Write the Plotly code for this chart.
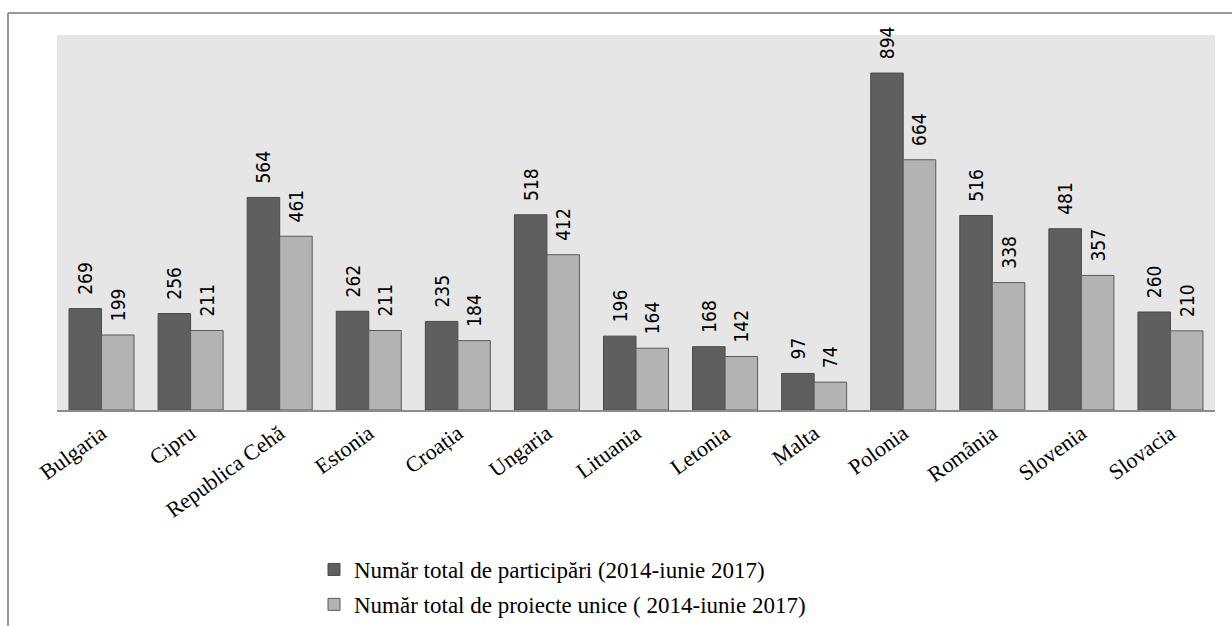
import plotly.graph_objects as go

categories = ["Bulgaria", "Cipru", "Republica Cehă", "Estonia", "Croația", "Ungaria",
              "Lituania", "Letonia", "Malta", "Polonia", "România", "Slovenia", "Slovacia"]
participari = [269, 256, 564, 262, 235, 518, 196, 168, 97, 894, 516, 481, 260]
proiecte = [199, 211, 461, 211, 184, 412, 164, 142, 74, 664, 338, 357, 210]
series_names = ["Număr total de participări (2014-iunie 2017)",
                "Număr total de proiecte unice ( 2014-iunie 2017)"]

W, H = 1232, 626
L, R, T, B = 57, 17, 35, 216
PW, PH = W - L - R, H - T - B

label_font = dict(family="Liberation Sans Narrow, Arial Narrow, DejaVu Sans Condensed, Liberation Sans, sans-serif",
                  size=19, color="#000000")

fig = go.Figure()
fig.add_trace(go.Bar(
    x=categories, y=participari, name=series_names[0], legendgroup="a",
    marker=dict(color="#5f5f5f", line=dict(color="#4a4a4a", width=1)),
    text=participari, texttemplate="\u00a0\u00a0%{y}", textposition="outside", textangle=-90,
    textfont=label_font, cliponaxis=False, constraintext="none",
))
fig.add_trace(go.Bar(
    x=categories, y=proiecte, name=series_names[1], legendgroup="b",
    marker=dict(color="#b3b3b3", line=dict(color="#5a5a5a", width=1)),
    text=proiecte, texttemplate="\u00a0\u00a0%{y}", textposition="outside", textangle=-90,
    textfont=label_font, cliponaxis=False, constraintext="none",
))

fig.update_layout(
    width=W, height=H,
    margin=dict(l=L, r=R, t=T, b=B, autoexpand=False),
    paper_bgcolor="#ffffff",
    plot_bgcolor="#e6e6e6",
    barmode="group",
    bargap=0.27,
    bargroupgap=0,
    showlegend=True,
    legend=dict(
        x=(314 - L) / PW, y=-(548 - (H - B)) / PH, xanchor="left", yanchor="top",
        orientation="v",
        font=dict(family="Liberation Serif, Times New Roman, serif", size=23, color="#000000"),
        bgcolor="rgba(0,0,0,0)",
        tracegroupgap=2,
    ),
    xaxis=dict(
        tickangle=-36,
        tickfont=dict(family="Liberation Serif, Times New Roman, serif", size=22, color="#000000"),
        showgrid=False, zeroline=False,
        showline=True, linecolor="#8c8c8c", linewidth=2,
        ticks="",
    ),
    yaxis=dict(
        range=[0, 995],
        showticklabels=False, showgrid=False, zeroline=False, showline=False,
        ticks="",
    ),
    shapes=[
        dict(type="line", xref="paper", yref="paper",
             x0=(8 - L) / PW, x1=(W - L) / PW,
             y0=(H - B - 13) / PH, y1=(H - B - 13) / PH,
             line=dict(color="#999999", width=2)),
        dict(type="line", xref="paper", yref="paper",
             x0=(8 - L) / PW, x1=(8 - L) / PW,
             y0=(H - B - 13) / PH, y1=-B / PH,
             line=dict(color="#999999", width=2)),
    ],
)

fig.write_html("out.html", config={"displayModeBar": False},
               post_script="document.body.style.margin='0';document.body.style.overflow='hidden';")
